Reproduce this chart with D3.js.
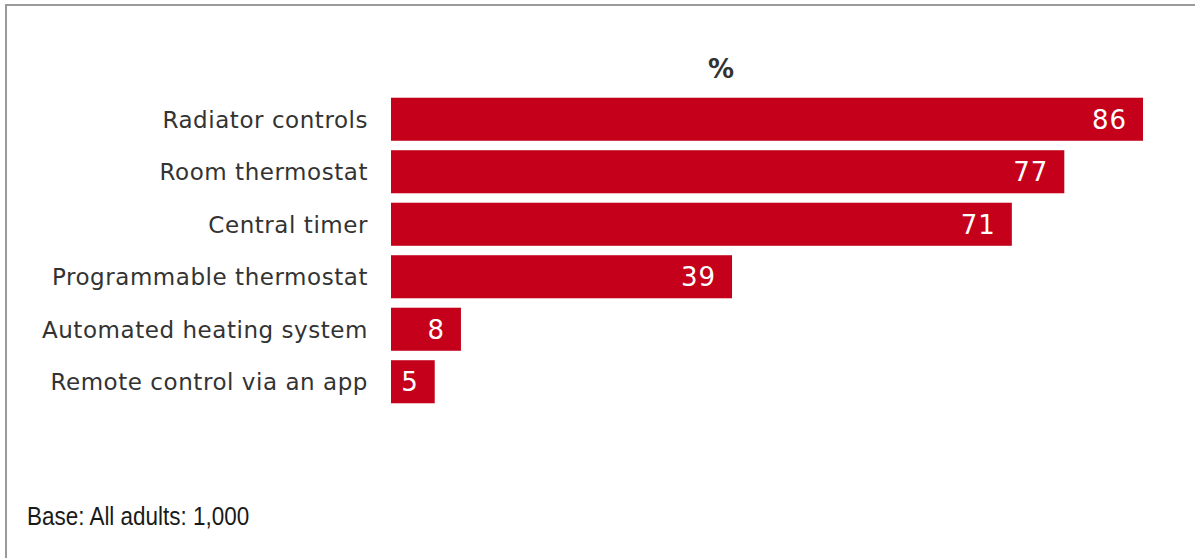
<!DOCTYPE html>
<html>
<head>
<meta charset="utf-8">
<script src="https://cdn.jsdelivr.net/npm/d3@7"></script>
<style>
  html, body { margin: 0; padding: 0; background: #fff; }
  svg { display: block; }
</style>
</head>
<body>
<svg id="chart" width="1195" height="558"></svg>
<script>
// Heating controls present in the home, % of all adults
const categories = [
  "Radiator controls",
  "Room thermostat",
  "Central timer",
  "Programmable thermostat",
  "Automated heating system",
  "Remote control via an app"
];
const values = [86, 77, 71, 39, 8, 5];
const unitLabel = "%";
const baseNote = "Base: All adults: 1,000";

const svg = d3.select("#chart");
const W = 1195, H = 558;
const barColor = "#c4001a";

// panel frame
svg.append("rect")
  .attr("x", 6).attr("y", 5)
  .attr("width", W + 10).attr("height", H + 10)
  .attr("fill", "none")
  .attr("stroke", "#9a9a9a")
  .attr("stroke-width", 2);

const x = d3.scaleLinear().domain([0, 86]).range([391, 1143]);
const y = d3.scaleBand().domain(categories).range([93, 408]).paddingInner(0.18).paddingOuter(0.09);

// bars
svg.append("g").selectAll("rect")
  .data(values)
  .join("rect")
  .attr("x", x(0))
  .attr("y", (d, i) => y(categories[i]))
  .attr("width", d => x(d) - x(0))
  .attr("height", y.bandwidth())
  .attr("fill", barColor);

// value labels inside bar ends
svg.append("g").selectAll("text")
  .data(values)
  .join("text")
  .attr("x", d => x(d) - 16)
  .attr("y", (d, i) => y(categories[i]) + y.bandwidth() / 2)
  .attr("dy", "0.36em")
  .attr("text-anchor", "end")
  .attr("fill", "#fff")
  .style("font-family", "'DejaVu Sans', Verdana, sans-serif")
  .style("font-size", "26px")
  .style("letter-spacing", "1px")
  .text(d => d);

// category axis
const yAxis = d3.axisLeft(y).tickSize(0).tickPadding(0);
const gy = svg.append("g").attr("transform", "translate(368,0)").call(yAxis);
gy.select(".domain").remove();
gy.selectAll("text")
  .attr("fill", "#333")
  .attr("dy", "0.36em")
  .style("font-family", "'DejaVu Sans', Verdana, sans-serif")
  .style("font-size", "23px")
  .style("letter-spacing", "0.55px");

// unit header
svg.append("text")
  .attr("x", 721).attr("y", 78)
  .attr("text-anchor", "middle")
  .attr("fill", "#333")
  .style("font-family", "'DejaVu Sans', Verdana, sans-serif")
  .style("font-size", "26px")
  .style("font-weight", "bold")
  .text(unitLabel);

// base note, condensed
svg.append("text")
  .attr("transform", "translate(27,525) scale(0.864,1)")
  .attr("fill", "#1a1a1a")
  .style("font-family", "'Liberation Sans', Arial, sans-serif")
  .style("font-size", "26px")
  .text(baseNote);
</script>
</body>
</html>
